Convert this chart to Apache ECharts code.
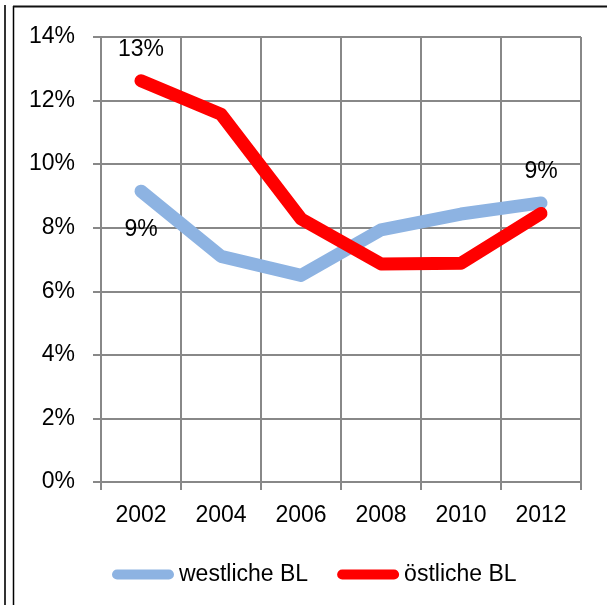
<!DOCTYPE html>
<html>
<head>
<meta charset="utf-8">
<script src="https://cdn.jsdelivr.net/npm/echarts@6/dist/echarts.min.js"></script>
<style>
  html, body { margin: 0; padding: 0; background: #fff; }
  #main { width: 607px; height: 605px; }
</style>
</head>
<body>
<div id="main"></div>
<script>
var years = ["2002", "2004", "2006", "2008", "2010", "2012"];
var westValues = [9.15, 7.1, 6.5, 7.93, 8.43, 8.78];
var eastValues = [12.62, 11.57, 8.28, 6.86, 6.88, 8.45];
var yTicks = { min: 0, max: 14, interval: 2 };

var font = "Liberation Sans";
var gridColor = "#888888";

// only a few points carry a label
var westLabels = { 0: "bottom", 5: "top" };
var eastLabels = { 0: "top" };

var makeData = (values, labels) =>
  values.map((v, i) => {
    var item = { value: v };
    if (labels[i]) {
      item.label = {
        show: true,
        position: labels[i],
        distance: labels[i] === "top" ? 20 : 27
      };
    }
    return item;
  });

var pillIcon = "path://M5,0 H56 A5,5 0 0 1 56,10 H5 A5,5 0 0 1 5,0 Z";

var lineSeries = (name, color, values, labels) => ({
  name: name,
  type: "line",
  symbol: "circle",
  symbolSize: 0,
  showSymbol: true,
  color: color,
  itemStyle: { color: color },
  lineStyle: { width: 13, cap: "round", join: "round", color: color },
  label: {
    show: false,
    fontFamily: font,
    fontSize: 23,
    color: "#000",
    formatter: p => Math.round(p.value) + "%"
  },
  emphasis: { disabled: true },
  data: makeData(values, labels)
});

var myChart = echarts.init(document.getElementById("main"));
var option = {
  animation: false,
  backgroundColor: "#fff",
  textStyle: { fontFamily: font },
  graphic: [
    { type: "line", shape: { x1: 5, y1: 5, x2: 5, y2: 605 }, style: { stroke: "#333", lineWidth: 2 } },
    { type: "line", shape: { x1: 13.5, y1: 6, x2: 13.5, y2: 605 }, style: { stroke: "#000", lineWidth: 1.5 } },
    { type: "line", shape: { x1: 13, y1: 6.5, x2: 607, y2: 6.5 }, style: { stroke: "#111", lineWidth: 2 } }
  ],
  legend: {
    left: 107,
    top: 558,
    itemWidth: 62,
    itemHeight: 11,
    itemGap: 29,
    icon: pillIcon,
    textStyle: { fontFamily: font, fontSize: 23, color: "#000" },
    data: ["westliche BL", "östliche BL"]
  },
  grid: {
    left: 101,
    right: 26,
    top: 37,
    bottom: 123
  },
  xAxis: {
    type: "category",
    boundaryGap: true,
    data: years,
    axisLine: { show: true, lineStyle: { color: gridColor, width: 2 } },
    axisTick: { show: true, length: 8, interval: 0, lineStyle: { color: gridColor, width: 2 } },
    splitLine: { show: true, interval: 0, lineStyle: { color: gridColor, width: 2 } },
    axisLabel: { fontFamily: font, fontSize: 23, color: "#000", margin: 22 }
  },
  yAxis: {
    type: "value",
    min: yTicks.min,
    max: yTicks.max,
    interval: yTicks.interval,
    axisLine: { show: true, lineStyle: { color: gridColor, width: 2 } },
    axisTick: { show: true, length: 8, lineStyle: { color: gridColor, width: 2 } },
    splitLine: { show: true, lineStyle: { color: gridColor, width: 2 } },
    axisLabel: { fontFamily: font, fontSize: 23, color: "#000", margin: 26, formatter: "{value}%" }
  },
  series: [
    lineSeries("westliche BL", "#8DB3E2", westValues, westLabels),
    lineSeries("östliche BL", "#FF0000", eastValues, eastLabels)
  ]
};
myChart.setOption(option);
</script>
</body>
</html>
